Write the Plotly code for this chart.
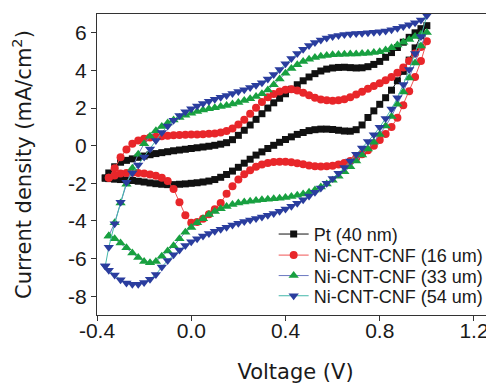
import plotly.graph_objects as go

# Voltage grid (V), shared by every branch
V_GRID = [-0.35, -0.325, -0.3, -0.275, -0.25, -0.225, -0.2, -0.175, -0.15, -0.125,
          -0.1, -0.075, -0.05, -0.025, 0.0, 0.025, 0.05, 0.075, 0.1, 0.125,
          0.15, 0.175, 0.2, 0.225, 0.25, 0.275, 0.3, 0.325, 0.35, 0.375,
          0.4, 0.425, 0.45, 0.475, 0.5, 0.525, 0.55, 0.575, 0.6, 0.625,
          0.65, 0.675, 0.7, 0.725, 0.75, 0.775, 0.8, 0.825, 0.85, 0.875,
          0.9, 0.925, 0.95, 0.975, 1.0]

# Pt (40 nm)
PT_TIP = (-0.365, -1.72)
PT_UP = [-1.45, -1.12, -0.88, -0.78, -0.7, -0.62, -0.55, -0.48, -0.42, -0.37,
         -0.32, -0.27, -0.23, -0.19, -0.15, -0.11, -0.07, -0.03, 0.02, 0.08,
         0.16, 0.32, 0.55, 0.82, 1.1, 1.4, 1.7, 2.0, 2.28, 2.52,
         2.76, 3.0, 3.24, 3.45, 3.65, 3.83, 3.97, 4.07, 4.13, 4.16,
         4.17, 4.15, 4.13, 4.14, 4.2, 4.32, 4.48, 4.7, 4.95, 5.22,
         5.5, 5.76, 6.0, 6.22, 6.38]
PT_DOWN = [-1.75, -1.78, -1.8, -1.82, -1.85, -1.89, -1.93, -1.98, -2.02, -2.05,
           -2.07, -2.07, -2.05, -2.03, -2.0, -1.97, -1.93, -1.88, -1.8, -1.68,
           -1.53, -1.35, -1.15, -0.93, -0.72, -0.5, -0.33, -0.15, 0.02, 0.18,
           0.33, 0.47, 0.6, 0.7, 0.8, 0.85, 0.88, 0.88, 0.86, 0.82,
           0.78, 0.77, 0.85, 1.1, 1.5, 1.85, 2.2, 2.55, 2.95, 3.45,
           3.95, 4.55, 5.2, 5.85, 6.38]

# Ni-CNT-CNF (16 um)
R16_UP = [-1.7, -1.2, -0.62, -0.2, 0.1, 0.27, 0.37, 0.43, 0.47, 0.5,
          0.53, 0.55, 0.57, 0.58, 0.59, 0.6, 0.61, 0.63, 0.65, 0.7,
          0.78, 0.92, 1.12, 1.38, 1.7, 2.02, 2.32, 2.57, 2.75, 2.88,
          2.97, 3.0, 2.94, 2.82, 2.68, 2.55, 2.46, 2.41, 2.39, 2.41,
          2.47, 2.58, 2.72, 2.87, 3.02, 3.17, 3.32, 3.48, 3.65, 3.88,
          4.15, 4.5, 4.9, 5.25, 5.55]
R16_DOWN = [-1.7, -1.58, -1.48, -1.45, -1.44, -1.45, -1.48, -1.53, -1.6, -1.7,
            -1.88, -2.3, -3.0, -3.7, -4.1, -4.05, -3.88, -3.65, -3.38, -3.05,
            -2.55, -2.15, -1.8, -1.52, -1.3, -1.12, -1.0, -0.92, -0.87, -0.85,
            -0.85, -0.88, -0.93, -0.99, -1.05, -1.09, -1.1, -1.09, -1.06, -1.0,
            -0.92, -0.82, -0.66, -0.46, -0.24, 0.0, 0.3, 0.62, 1.0, 1.48,
            2.15, 2.9, 3.65, 4.5, 5.55]

# Ni-CNT-CNF (33 um)
G33_UP = [-4.8, -4.1, -3.05, -2.05, -1.2, -0.45, 0.1, 0.5, 0.8, 1.02,
          1.2, 1.36, 1.5, 1.62, 1.73, 1.82, 1.9, 1.96, 2.02, 2.08,
          2.14, 2.22, 2.3, 2.4, 2.5, 2.62, 2.76, 2.96, 3.24, 3.55,
          3.85, 4.1, 4.3, 4.47, 4.6, 4.69, 4.76, 4.8, 4.83, 4.85,
          4.86, 4.87, 4.88, 4.9, 4.92, 4.95, 5.0, 5.08, 5.2, 5.35,
          5.5, 5.65, 5.8, 5.92, 6.02]
G33_DOWN = [-4.8, -4.95, -5.17, -5.43, -5.7, -5.95, -6.15, -6.22, -6.15, -5.88,
            -5.6, -5.32, -4.95, -4.6, -4.35, -4.1, -3.88, -3.66, -3.5, -3.35,
            -3.23, -3.13, -3.05, -2.99, -2.95, -2.91, -2.88, -2.85, -2.82, -2.79,
            -2.75, -2.7, -2.64, -2.57, -2.47, -2.35, -2.2, -2.03, -1.84, -1.62,
            -1.38, -1.12, -0.82, -0.5, -0.18, 0.18, 0.6, 1.05, 1.55, 2.2,
            2.85, 3.6, 4.4, 5.3, 6.02]

# Ni-CNT-CNF (54 um)
B54_TIP = (-0.365, -6.4)
B54_UP = [-5.4, -4.15, -3.0, -1.95, -1.45, -1.02, -0.6, -0.18, 0.28, 0.7,
          1.05, 1.35, 1.6, 1.8, 1.97, 2.11, 2.24, 2.36, 2.47, 2.57,
          2.67, 2.77, 2.88, 2.98, 3.09, 3.21, 3.35, 3.55, 3.78, 4.05,
          4.35, 4.63, 4.9, 5.13, 5.33, 5.49, 5.62, 5.72, 5.8, 5.86,
          5.91, 5.94, 5.96, 5.98, 6.0, 6.03, 6.06, 6.1, 6.16, 6.24,
          6.33, 6.43, 6.53, 6.68, 6.92]
B54_DOWN = [-6.62, -6.88, -7.12, -7.3, -7.37, -7.36, -7.27, -7.1, -6.85, -6.45,
            -6.1, -5.8, -5.55, -5.3, -5.1, -4.95, -4.8, -4.67, -4.55, -4.44,
            -4.33, -4.22, -4.12, -4.03, -3.95, -3.87, -3.79, -3.7, -3.6, -3.49,
            -3.37, -3.22, -3.06, -2.88, -2.68, -2.47, -2.25, -2.0, -1.74, -1.46,
            -1.16, -0.82, -0.46, -0.12, 0.22, 0.58, 0.98, 1.45, 1.95, 2.55,
            3.25, 4.05, 4.9, 5.8, 6.92]

NAMES = ["Pt (40 nm)", "Ni-CNT-CNF (16 um)", "Ni-CNT-CNF (33 um)", "Ni-CNT-CNF (54 um)"]
X_TICKS = [-0.4, 0.0, 0.4, 0.8, 1.2]
X_TICK_TEXT = ["-0.4", "0.0", "0.4", "0.8", "1.2"]
Y_TICKS = [-8, -6, -4, -2, 0, 2, 4, 6]
Y_TICK_TEXT = ["-8", "-6", "-4", "-2", "0", "2", "4", "6"]


def loop(up, down, tip=None):
    xs = list(V_GRID) + list(V_GRID[::-1][1:])
    ys = list(up) + list(down[::-1][1:])
    if tip is not None:
        xs = [tip[0]] + xs + [tip[0]]
        ys = [tip[1]] + ys + [tip[1]]
    return xs, ys


series = [
    (NAMES[0], PT_UP, PT_DOWN, PT_TIP, "#111111", "#111111", "square", 7),
    (NAMES[1], R16_UP, R16_DOWN, None, "#f05555", "#e8262a", "circle", 8),
    (NAMES[2], G33_UP, G33_DOWN, None, "#6a78c0", "#18a040", "triangle-up", 9),
    (NAMES[3], B54_UP, B54_DOWN, B54_TIP, "#45b8aa", "#2a3d9e", "triangle-down", 9),
]
LEGEND_IDS = ["legend", "legend2", "legend3", "legend4"]
LEGEND_ROWS = [0.268, 0.198, 0.13, 0.063]

fig = go.Figure()
for (name, up, down, tip, lc, mc, sym, ms), lid in zip(series, LEGEND_IDS):
    xs, ys = loop(up, down, tip)
    fig.add_trace(go.Scatter(
        x=xs, y=ys, name=name, mode="lines+markers", legend=lid,
        line=dict(color=lc, width=1),
        marker=dict(symbol=sym, size=ms, color=mc, line=dict(width=0)),
    ))

FONT = "Liberation Sans, Arial, sans-serif"
TITLE_FONT = "DejaVu Sans, Liberation Sans, sans-serif"
legend_layouts = {}
for lid, ly in zip(LEGEND_IDS, LEGEND_ROWS):
    legend_layouts[lid] = dict(x=0.445, y=ly, xanchor="left", yanchor="middle",
                               bgcolor="rgba(0,0,0,0)", borderwidth=0,
                               font=dict(family=FONT, size=18, color="#1a1a1a"))

fig.update_layout(
    width=486, height=378,
    margin=dict(l=89, r=0, t=6, b=71),
    paper_bgcolor="white", plot_bgcolor="white",
    font=dict(family=FONT, color="#1a1a1a", size=21),
    showlegend=True,
    xaxis=dict(range=[-0.4, 1.285], tickvals=X_TICKS, ticktext=X_TICK_TEXT,
               ticks="outside", ticklen=5, tickwidth=1.2, tickcolor="#333",
               showline=True, linecolor="#333", linewidth=1.3, mirror=True,
               showgrid=False, zeroline=False, ticklabelstandoff=-8,
               tickfont=dict(size=21),
               title=dict(text="Voltage (V)", font=dict(size=21, family=TITLE_FONT), standoff=22)),
    yaxis=dict(range=[-9, 7], tickvals=Y_TICKS, ticktext=Y_TICK_TEXT,
               ticks="outside", ticklen=5, tickwidth=1.2, tickcolor="#333",
               showline=True, linecolor="#333", linewidth=1.3, mirror=False,
               showgrid=False, zeroline=False,
               tickfont=dict(size=21),
               title=dict(text="Current density (mA/cm<sup>2</sup>)",
                          font=dict(size=21, family=TITLE_FONT), standoff=30)),
    **legend_layouts,
)

fig.write_html("out.html")
